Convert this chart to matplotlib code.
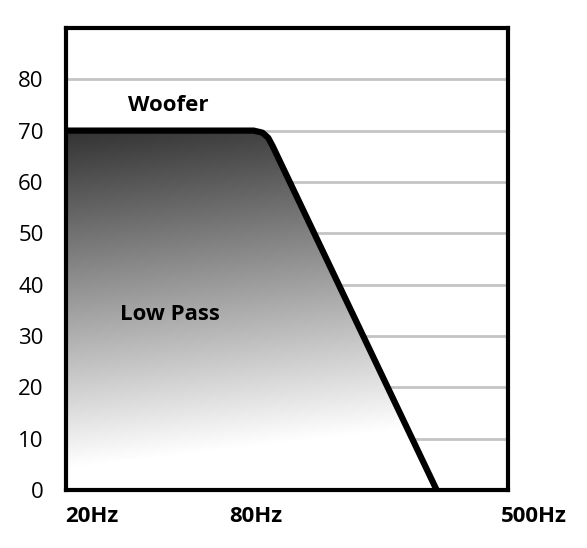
import numpy as np
import matplotlib
matplotlib.use("Agg")
import matplotlib.pyplot as plt
from matplotlib.patches import Polygon

# Filter curve (x in relative plot units, y in dB-like scale)
curve_x = [0.0, 0.425, 0.445, 0.458, 0.468, 0.839]
curve_y = [70, 70, 69.6, 68.6, 67, 0]
y_ticks = [0, 10, 20, 30, 40, 50, 60, 70, 80]
x_labels = ["20Hz", "80Hz", "500Hz"]
x_label_pos = [0.06, 0.43, 1.06]

plt.rcParams["font.family"] = ["Open Sans", "DejaVu Sans"]
fig = plt.figure(figsize=(5.87, 5.48), dpi=100)
ax = fig.add_axes([0.112, 0.106, 0.753, 0.843])
ax.set_xlim(0, 1)
ax.set_ylim(0, 90)

for y in y_ticks[1:]:
    ax.axhline(y, color="#c4c4c4", lw=2, zorder=1)

# gradient fill under the curve: dark at top, fading to white at bottom
yy, xx = np.mgrid[0:1:200j, 0:1:200j]
shade = 0.2 + 0.85 * yy + 0.12 * xx
shade = np.clip(shade, 0, 1)
img = ax.imshow(shade, cmap="gray", vmin=0, vmax=1, origin="upper",
                extent=[0, 1, 0, 70], aspect="auto", zorder=2)
poly = Polygon(list(zip(curve_x, curve_y)) + [(0, 0)], closed=True,
               transform=ax.transData, facecolor="none", edgecolor="none")
ax.add_patch(poly)
img.set_clip_path(poly)

ax.plot(curve_x, curve_y, color="black", lw=4.5, solid_capstyle="butt",
        solid_joinstyle="round", zorder=3)

ax.text(0.233, 74.8, "Woofer", fontsize=16, fontweight="bold", ha="center", va="center", zorder=4)
ax.text(0.235, 34.2, "Low Pass", fontsize=16, fontweight="bold", ha="center", va="center", zorder=4)

ax.set_yticks(y_ticks)
ax.set_yticklabels([str(v) for v in y_ticks], fontsize=16)
ax.tick_params(axis="y", length=0, pad=16)
ax.set_xticks([])
for pos, lab in zip(x_label_pos, x_labels):
    ax.text(pos, -0.035, lab, transform=ax.transAxes, fontsize=16, fontweight="bold",
            ha="center", va="top", clip_on=False)

for s in ax.spines.values():
    s.set_linewidth(3)
    s.set_zorder(5)

fig.savefig("out.png", dpi=100)
